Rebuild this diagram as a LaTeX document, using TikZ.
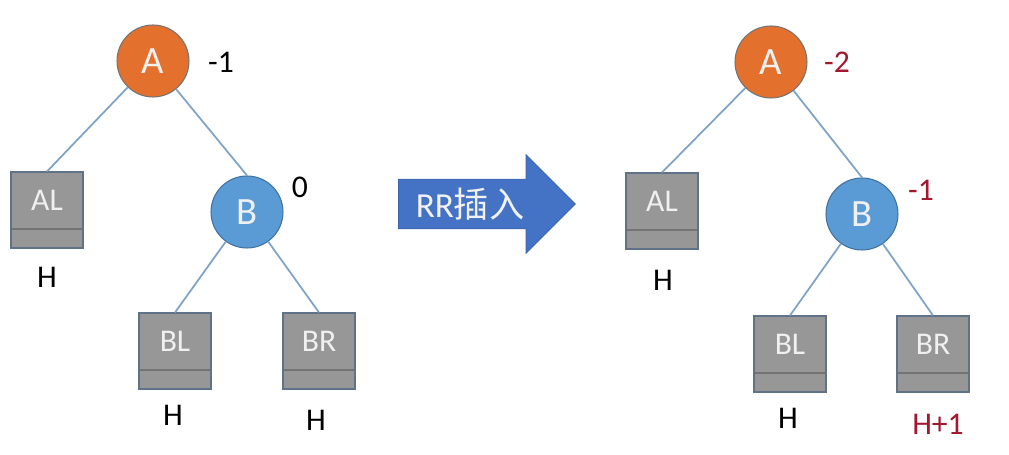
\documentclass[tikz,border=0pt]{standalone}
\usepackage{fontspec}
\setmainfont{Carlito}
\newfontfamily\cjkfont{Noto Sans CJK SC}
\usetikzlibrary{shapes.arrows}
\definecolor{nodeorange}{HTML}{E4702E}
\definecolor{nodeblue}{HTML}{5B9BD5}
\definecolor{blueedge}{HTML}{41719C}
\definecolor{boxgray}{HTML}{979797}
\definecolor{boxedge}{HTML}{5F7288}
\definecolor{linkblue}{HTML}{7FA3C6}
\definecolor{arrowblue}{HTML}{4472C4}
\definecolor{arrowedge}{HTML}{3A62A8}
\definecolor{balred}{HTML}{A3182F}

\begin{document}
\begin{tikzpicture}[x=0.02cm, y=-0.02cm,
  circ/.style={circle, minimum size=1.44cm, inner sep=0pt, draw=black!55, line width=0.6pt, text=white!94!black, font=\fontsize{22}{26}\selectfont},
  anode/.style={circ, fill=nodeorange},
  bnode/.style={circ, fill=nodeblue, draw=blueedge},
  subtree/.style={rectangle, minimum width=1.44cm, minimum height=1.52cm, inner sep=0pt, fill=boxgray, draw=boxedge, line width=0.6pt,
    text=white!94!black, font=\fontsize{18}{22}\selectfont, text depth=0.38cm,
    path picture={\draw[black!55, line width=0.8pt] ([yshift=0.38cm]path picture bounding box.south west) -- ([yshift=0.38cm]path picture bounding box.south east);}},
  link/.style={draw=linkblue, line width=1pt},
  bal/.style={font=\fontsize{18}{22}\selectfont},
  hgt/.style={font=\fontsize{18}{22}\selectfont},
  red/.style={text=balred}
]
\useasboundingbox (0,0) rectangle (1009,455);

% before insertion
\node[anode] (A1) at (153,61) {A};
\node[subtree] (AL1) at (47,210) {AL};
\node[bnode] (B1) at (247,212) {B};
\node[subtree] (BL1) at (175,351) {BL};
\node[subtree] (BR1) at (319,351) {BR};
\draw[link] (A1) -- (AL1.north);
\draw[link] (A1) -- (B1.north);
\draw[link] (B1) -- (BL1.north);
\draw[link] (B1) -- (BR1.north);
\node[bal] (fa1) at (221,62) {-1};
\node[bal] (fb1) at (300,187) {0};
\node[hgt] (hal1) at (47,277) {H};
\node[hgt] (hbl1) at (173,415) {H};
\node[hgt] (hbr1) at (316,420) {H};

% RR insertion
\node[single arrow, draw=arrowedge, fill=arrowblue, minimum height=3.54cm,
  inner xsep=0pt, inner ysep=0.49cm, single arrow head extend=0.49cm] (rr) at (474.5,204) {};
\node[text=white!95!black, font=\fontsize{20}{24}\selectfont] (rrtext) at (470,204) {RR{\cjkfont 插入}};

% after insertion
\node[anode] (A2) at (771,62) {A};
\node[subtree] (AL2) at (662,211) {AL};
\node[bnode] (B2) at (862,214) {B};
\node[subtree] (BL2) at (790,354) {BL};
\node[subtree] (BR2) at (933,354) {BR};
\draw[link] (A2) -- (AL2.north);
\draw[link] (A2) -- (B2.north);
\draw[link] (B2) -- (BL2.north);
\draw[link] (B2) -- (BR2.north);
\node[bal, red] (fa2) at (837,62) {-2};
\node[bal, red] (fb2) at (921,190) {-1};
\node[hgt] (hal2) at (663,280) {H};
\node[hgt] (hbl2) at (788,418) {H};
\node[hgt, red] (hbr2) at (938,424) {H+1};
\end{tikzpicture}
\end{document}
